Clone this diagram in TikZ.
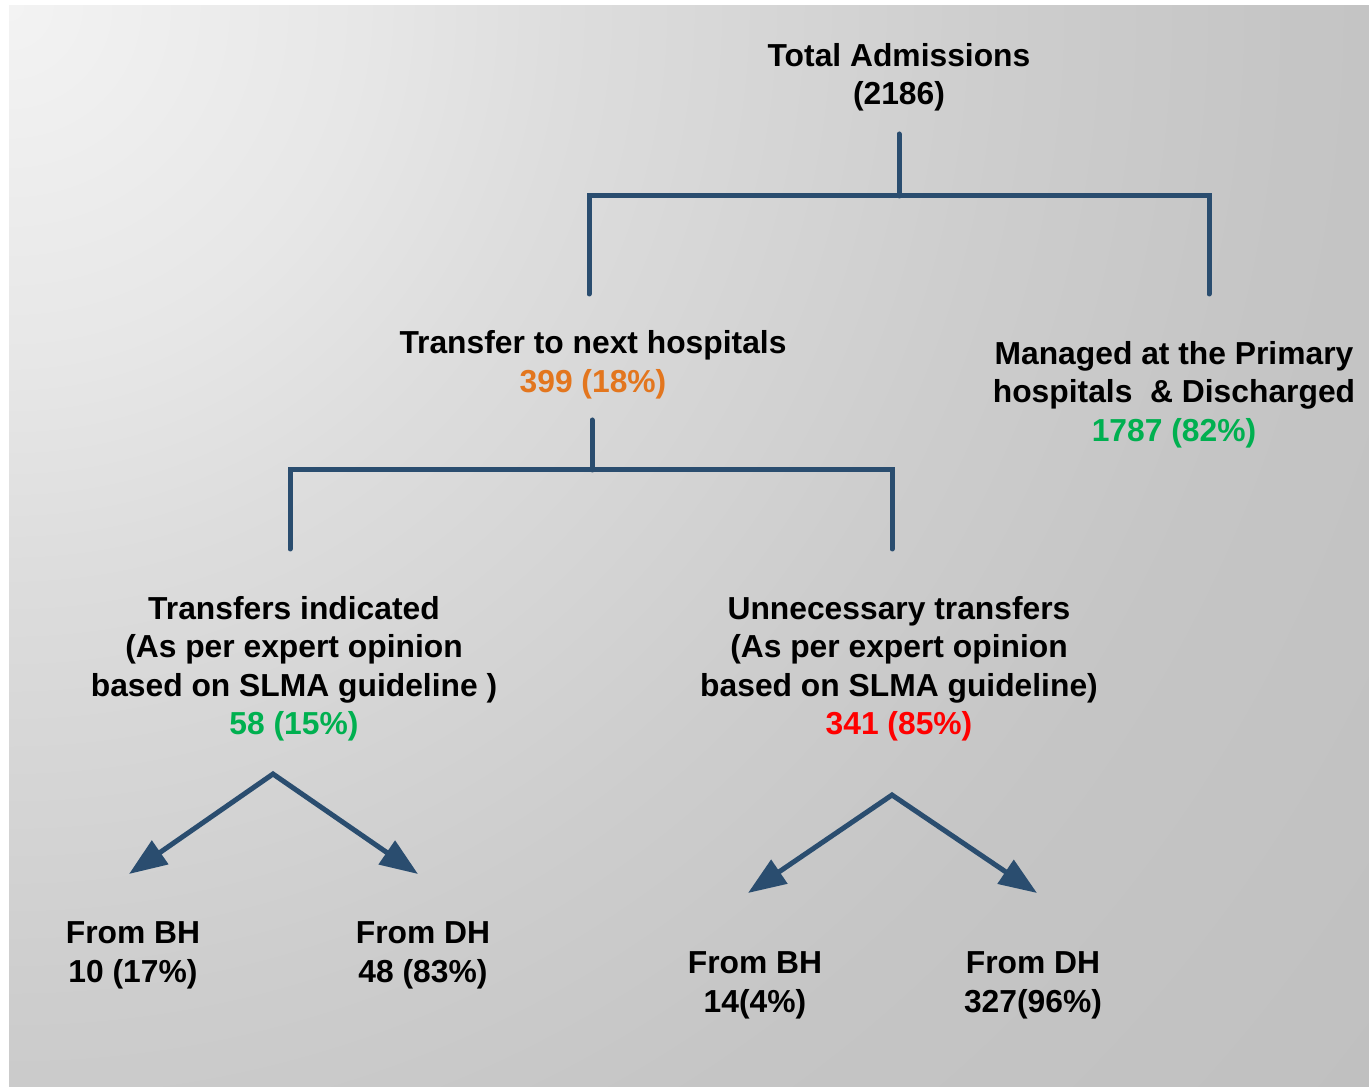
\documentclass[tikz,border=0pt]{standalone}
\usepackage{fontspec}
\setmainfont{Liberation Sans}
\usetikzlibrary{arrows.meta}
\definecolor{linec}{HTML}{2A4D6F}
\definecolor{orangec}{HTML}{E3761E}
\definecolor{greenc}{HTML}{00B050}
\definecolor{redc}{HTML}{FF0000}
\definecolor{bgA}{HTML}{F3F3F3}
\definecolor{bgB}{HTML}{E7E7E7}
\definecolor{bgC}{HTML}{DDDDDD}
\definecolor{bgD}{HTML}{CDCDCD}
\definecolor{bgE}{HTML}{C5C5C5}
\definecolor{bgF}{HTML}{C0C0C0}
\pgfdeclareradialshading{bgshade}{\pgfpoint{0bp}{0bp}}{color(0bp)=(bgA); color(4.9bp)=(bgB); color(7.8bp)=(bgC); color(13.9bp)=(bgD); color(17.9bp)=(bgE); color(24.2bp)=(bgF); color(50bp)=(bgF)}
\begin{document}
\begin{tikzpicture}[x=1pt,y=1pt,
  tree/.style={draw=linec, line width=5pt, line cap=round, line join=miter},
  arrowline/.style={draw=linec, line width=5pt, line join=miter,
    {Triangle[length=38pt,width=28pt]}-{Triangle[length=38pt,width=28pt]}},
  lbl/.style={font=\fontsize{31.8}{38.5}\selectfont\bfseries, align=center, inner sep=0pt, anchor=north, text=black},
  lblb/.style={font=\fontsize{31.8}{39}\selectfont\bfseries, align=center, inner sep=0pt, anchor=north, text=black}]
\useasboundingbox (0,0) rectangle (1369,1087);
\fill[white] (0,0) rectangle (1369,1087);
\begin{scope}
  \clip (9,0) rectangle (1369,1081);
  \shade[shading=bgshade] (9,1081) circle (1800pt);
\end{scope}

% text nodes
\node[lbl] (total) at (899,1047.9) {\strut Total Admissions\\\strut (2186)};
\node[lbl] (transfer) at (593,760.4) {\strut Transfer to next hospitals\\\strut\textcolor{orangec}{399 (18\%)}};
\node[lbl] (managed) at (1174,749.9) {\strut Managed at the Primary\\\strut hospitals\ \ \& Discharged\\\strut\textcolor{greenc}{1787 (82\%)}};
\node[lbl] (indicated) at (294,494.9) {\strut Transfers indicated\\\strut (As per expert opinion\\\strut based on SLMA guideline )\\\strut\textcolor{greenc}{58 (15\%)}};
\node[lbl] (unnec) at (899,494.9) {\strut Unnecessary transfers\\\strut (As per expert opinion\\\strut based on SLMA guideline)\\\strut\textcolor{redc}{341 (85\%)}};
\node[lblb] (lbh) at (133,171.3) {\strut From BH\\\strut 10 (17\%)};
\node[lblb] (ldh) at (423,171.3) {\strut From DH\\\strut 48 (83\%)};
\node[lblb] (rbh) at (755,141.3) {\strut From BH\\\strut 14(4\%)};
\node[lblb] (rdh) at (1033,141.3) {\strut From DH\\\strut 327(96\%)};

% tree 1
\coordinate (s1top) at (899,953);
\coordinate (s1j) at (899,891);
\coordinate (b1l) at (589,891);
\coordinate (b1r) at (1209,891);
\coordinate (d1l) at (589,793);
\coordinate (d1r) at (1209,793);
\draw[tree] (d1l) -- (b1l) -- (b1r) -- (d1r);
\draw[tree] (s1top) -- (s1j);

% tree 2
\coordinate (s2top) at (592,667);
\coordinate (s2j) at (592,617);
\coordinate (b2l) at (290,617);
\coordinate (b2r) at (892,617);
\coordinate (d2l) at (290,538);
\coordinate (d2r) at (892,538);
\draw[tree] (d2l) -- (b2l) -- (b2r) -- (d2r);
\draw[tree] (s2top) -- (s2j);

% arrows
\coordinate (a1) at (273,313);
\coordinate (a1l) at (129,213);
\coordinate (a1r) at (418,213);
\draw[arrowline] (a1l) -- (a1) -- (a1r);
\coordinate (a2) at (892,292);
\coordinate (a2l) at (748,194);
\coordinate (a2r) at (1037,194);
\draw[arrowline] (a2l) -- (a2) -- (a2r);
\end{tikzpicture}
\end{document}
